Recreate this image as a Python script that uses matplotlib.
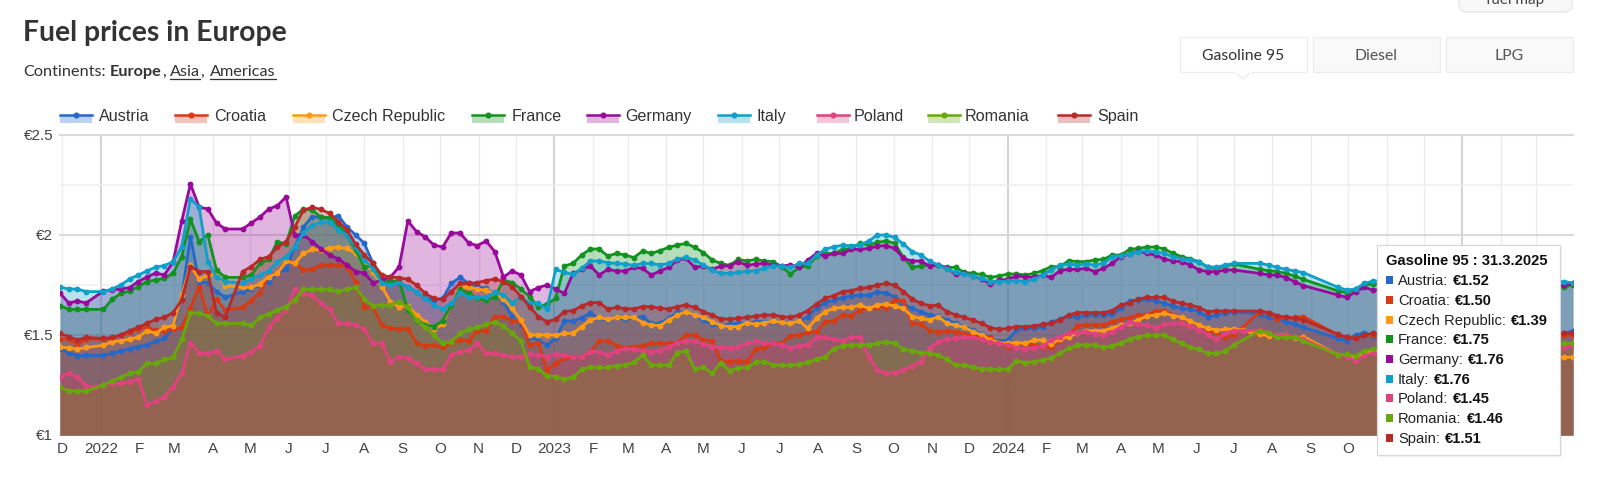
import datetime as dt
import matplotlib
matplotlib.use("Agg")
import matplotlib.pyplot as plt
from matplotlib.patches import Rectangle, FancyBboxPatch, Polygon
from matplotlib.lines import Line2D

WEEKS = [dt.date(2021, 11, 29) + dt.timedelta(days=7 * k) for k in range(175)]
BEHIND = [None] * 21   # weeks covered by the tooltip

austria = [1.428,1.412,1.397,1.398,None,1.398,1.408,1.42,1.432,1.442,
 1.45,1.47,1.483,1.533,1.692,1.992,1.767,1.76,1.717,1.688,
 None,1.717,1.73,1.75,1.767,1.808,1.828,1.942,2.04,2.092,
 2.088,2.083,2.097,2.04,2.0,1.958,1.858,1.767,1.767,1.762,
 1.742,1.717,1.683,1.675,1.683,1.758,1.788,1.758,1.742,1.733,
 1.705,1.667,1.592,1.55,1.492,1.475,1.45,1.483,1.57,1.57,
 1.587,1.608,1.583,1.575,1.588,1.578,1.588,1.592,1.558,1.558,
 1.583,1.613,1.617,1.60,1.575,1.555,1.547,1.555,1.558,1.558,
 1.567,1.567,1.567,1.567,1.562,1.567,1.592,1.633,1.662,1.675,
 1.687,1.697,1.698,1.70,1.717,1.708,1.692,1.655,1.633,1.617,
 1.60,1.595,1.575,1.558,1.542,1.525,1.505,1.478,1.47,1.475,
 1.525,1.533,1.533,1.542,1.565,1.578,1.595,1.588,1.60,1.60,
 1.60,1.605,1.633,1.67,1.675,1.678,1.67,1.658,1.645,1.633,
 1.63,1.617,1.588,1.60,1.608,1.617,None,None,1.605,1.588,
 1.58,1.567,1.555,1.538,None,None,None,1.483,1.472,1.50,
 1.512,1.497] + BEHIND + [1.51,1.52]

croatia = [1.48,1.48,1.45,1.48,None,1.478,1.483,1.50,1.513,1.53,
 1.538,1.525,1.522,1.528,1.538,1.633,1.742,1.592,1.678,1.625,
 None,1.638,1.672,1.712,1.795,1.812,1.875,1.862,1.825,1.828,
 1.85,1.85,1.85,1.842,1.767,1.642,1.638,1.55,1.533,1.53,
 1.532,1.458,1.447,1.45,1.438,1.462,1.475,1.472,1.522,1.522,
 1.592,1.592,1.572,1.567,1.45,1.46,1.325,1.358,1.383,1.388,
 1.392,1.417,1.47,1.472,1.447,1.437,1.442,1.447,1.458,1.458,
 1.458,1.462,1.50,1.50,1.475,1.47,1.37,1.367,1.37,1.367,
 1.428,1.438,1.458,1.458,1.497,1.50,1.513,1.517,1.567,1.57,
 1.60,1.597,1.625,1.633,1.642,1.637,1.675,1.672,1.558,1.555,
 1.522,1.517,1.52,1.517,1.505,1.50,1.492,1.488,1.458,1.442,
 1.458,1.455,1.45,1.442,1.438,1.475,1.503,1.545,1.55,1.55,
 1.55,1.567,1.578,1.587,1.60,1.60,1.62,1.622,1.60,1.587,
 1.57,1.55,1.525,None,1.492,1.50,None,None,1.617,1.612,
 1.578,1.588,1.588,1.592,None,None,None,1.50,1.488,1.483,
 1.50,1.50] + BEHIND + [1.50,1.50]

czech = [1.438,1.437,1.428,1.438,None,1.448,1.467,1.47,1.48,1.488,
 1.522,1.508,1.538,1.547,1.70,1.85,1.778,1.80,1.808,1.747,
 None,1.738,1.738,1.755,1.792,1.808,1.87,1.858,1.908,1.928,
 1.925,1.937,1.938,1.933,1.908,1.858,1.817,1.742,1.667,1.64,
 1.647,1.60,1.567,1.528,1.553,1.658,1.733,1.742,1.728,1.725,
 1.705,1.678,1.633,1.575,1.50,1.50,1.50,1.50,1.508,1.508,
 1.542,1.575,1.588,1.578,1.588,1.588,1.588,1.562,1.55,1.547,
 1.575,1.60,1.617,1.60,1.588,1.567,1.547,1.542,1.542,1.562,
 1.553,1.562,1.57,1.563,1.558,1.57,1.533,1.583,1.617,1.633,
 1.638,1.638,1.65,1.633,1.65,1.655,1.645,1.633,1.592,1.583,
 1.575,1.592,1.558,1.55,1.538,1.517,1.50,1.475,1.462,1.458,
 1.462,1.458,1.475,1.475,1.455,1.478,1.492,1.508,1.52,1.522,
 1.522,1.535,1.55,1.558,1.575,1.595,1.60,1.608,1.597,1.588,
 1.57,1.55,1.533,1.525,1.528,1.53,1.525,1.517,1.505,1.495,
 1.50,1.50,1.483,1.492,None,None,None,1.40,1.40,1.388,
 1.408,1.42] + BEHIND + [1.388,1.39]

france = [1.647,1.628,1.628,1.628,None,1.628,1.678,1.708,1.72,1.742,
 1.767,1.775,1.783,1.808,1.892,2.078,1.967,2.0,1.825,1.788,
 None,1.788,1.80,1.858,1.878,1.967,1.955,2.095,2.13,2.125,
 2.09,2.087,2.05,2.0,1.925,1.838,1.847,1.767,1.767,1.772,
 1.625,1.572,1.55,1.542,1.572,1.65,1.73,1.708,1.683,1.675,
 1.688,1.775,1.762,1.73,1.692,1.64,1.655,1.683,1.845,1.858,
 1.90,1.93,1.93,1.895,1.908,1.90,1.887,1.92,1.908,1.922,
 1.938,1.95,1.958,1.938,1.912,1.875,1.858,1.848,1.878,1.87,
 1.878,1.87,1.867,1.842,1.805,1.838,1.845,1.895,1.908,1.908,
 1.928,1.933,1.958,1.95,1.963,1.97,1.958,1.888,1.838,1.845,
 1.85,1.85,1.838,1.838,1.813,1.808,1.803,1.788,1.795,1.805,
 1.805,1.80,1.808,1.822,1.842,1.842,1.872,1.867,1.867,1.875,
 1.878,1.90,1.90,1.928,1.933,1.94,1.94,1.93,1.908,1.892,
 1.88,1.867,1.838,1.833,1.845,1.855,None,None,1.828,1.822,
 1.817,1.808,1.795,1.778,None,None,None,1.72,1.712,1.73,
 1.75,1.755] + BEHIND + [1.74,1.75]

germany = [1.71,1.66,1.67,1.66,None,1.72,1.725,1.73,1.737,1.767,
 1.79,1.81,1.80,1.865,2.07,2.255,2.14,2.13,2.06,2.03,
 None,2.03,2.06,2.09,2.13,2.147,2.19,2.0,2.0,1.967,
 1.93,1.90,1.88,1.85,1.817,1.81,1.76,1.775,1.79,1.84,
 2.07,2.017,1.99,1.95,1.94,2.01,2.01,1.96,1.947,1.97,
 1.917,1.79,1.82,1.80,1.717,1.737,1.75,1.73,1.708,1.808,
 1.828,1.845,1.80,1.828,1.82,1.82,1.838,1.833,1.80,1.82,
 1.838,1.875,1.883,1.838,1.845,1.828,1.845,1.845,1.867,1.848,
 1.855,1.858,1.85,1.845,1.85,1.838,1.875,1.908,1.895,1.908,
 1.908,1.928,1.928,1.933,1.945,1.947,1.933,1.883,1.87,1.87,
 1.845,1.85,1.833,1.805,1.808,1.795,1.78,1.755,1.775,1.778,
 1.795,1.792,1.788,1.80,1.788,1.822,1.828,1.828,1.833,1.817,
 1.833,1.858,1.892,1.905,1.92,1.908,1.90,1.88,1.87,1.867,
 1.85,1.825,1.817,1.817,1.825,1.825,None,None,1.808,1.80,
 1.80,1.787,1.767,1.747,None,None,None,1.70,1.688,1.717,
 1.738,1.725] + BEHIND + [1.75,1.76]

italy = [1.74,1.73,1.73,1.717,None,1.717,1.73,1.75,1.78,1.80,
 1.82,1.84,1.847,1.867,1.94,2.18,2.14,1.867,1.79,1.767,
 None,1.76,1.78,1.80,1.82,1.867,1.89,1.94,2.01,2.05,
 2.063,2.067,2.025,2.0,1.94,1.875,1.83,1.76,1.75,1.763,
 1.74,1.717,1.683,1.65,1.63,1.66,1.71,1.69,1.69,1.69,
 1.713,1.70,1.66,1.69,1.66,1.658,1.63,1.828,1.813,1.803,
 1.833,1.87,1.87,1.862,1.858,1.855,1.848,1.858,1.858,1.85,
 1.858,1.88,1.888,1.875,1.85,1.825,1.808,1.808,1.813,1.818,
 1.822,1.833,1.845,1.845,1.838,1.858,1.858,1.90,1.928,1.942,
 1.948,1.947,1.95,1.97,2.0,2.0,1.988,1.955,1.917,1.90,
 1.87,1.85,1.83,1.813,1.805,1.795,1.783,1.767,1.767,1.77,
 1.77,1.767,1.778,1.80,1.825,1.85,1.855,1.85,1.855,1.85,
 1.858,1.892,1.897,1.905,1.917,1.922,1.917,1.908,1.892,1.88,
 1.875,1.863,1.842,1.838,1.85,1.858,None,None,1.858,1.85,
 1.838,1.828,1.82,1.812,None,None,None,1.738,1.725,1.73,
 1.758,1.77] + BEHIND + [1.767,1.76]

poland = [1.292,1.308,1.292,1.245,1.242,1.25,1.258,1.258,1.267,1.282,
 1.15,1.17,1.192,1.242,1.308,1.462,1.408,1.408,1.42,1.378,
 None,1.397,1.417,1.447,1.538,1.587,1.625,1.73,1.708,1.70,
 1.658,1.63,1.558,1.558,1.55,1.53,1.458,1.458,1.367,1.392,
 1.383,1.358,1.328,1.328,1.328,1.40,1.417,1.425,1.458,1.408,
 1.408,1.40,1.392,1.392,1.403,1.40,1.392,1.405,1.398,1.392,
 1.392,1.417,1.417,1.40,1.422,1.43,1.43,1.422,1.417,1.422,
 1.442,1.458,1.472,1.47,1.455,1.442,1.438,1.437,1.438,1.458,
 1.468,1.458,1.458,1.45,1.437,1.447,1.45,1.488,1.488,1.48,
 1.472,1.488,1.488,1.392,1.325,1.308,1.312,1.325,1.345,1.367,
 1.433,1.467,1.478,1.483,1.488,1.488,1.478,1.463,1.458,1.45,
 1.437,1.43,1.437,1.445,1.475,1.492,1.508,1.512,1.517,1.505,
 1.50,1.517,1.538,1.567,1.553,1.55,1.537,1.555,1.558,1.558,
 1.545,1.525,1.50,1.478,1.508,1.522,1.522,None,1.525,1.512,
 1.50,1.50,1.492,1.48,None,None,None,1.40,1.392,1.37,
 1.40,1.408] + BEHIND + [1.44,1.45]

romania = [1.238,1.22,1.22,1.22,None,1.25,1.27,1.288,1.308,1.317,
 1.358,1.358,1.378,1.388,1.478,1.612,1.608,1.597,1.558,1.558,
 None,1.558,1.548,1.588,1.605,1.625,1.642,1.675,1.728,1.728,
 1.728,1.728,1.718,1.728,1.738,1.678,1.647,1.65,1.65,1.667,
 1.638,1.575,1.538,1.50,1.458,1.467,1.508,1.528,1.538,1.553,
 1.567,1.545,1.508,1.472,1.342,1.33,1.297,1.292,1.28,1.288,
 1.328,1.338,1.338,1.338,1.347,1.35,1.363,1.40,1.35,1.35,
 1.35,1.412,1.42,1.328,1.338,1.308,1.362,1.32,1.337,1.338,
 1.363,1.367,1.35,1.35,1.35,1.353,1.363,1.378,1.392,1.43,
 1.447,1.45,1.45,1.45,1.458,1.467,1.458,1.43,1.42,1.412,
 1.408,1.40,1.378,1.35,1.35,1.338,1.332,1.328,1.328,1.328,
 1.37,1.362,1.367,1.375,1.385,1.408,1.433,1.45,1.45,1.45,
 1.438,1.447,1.458,1.48,1.492,1.498,1.498,1.50,1.478,1.458,
 1.438,1.428,1.408,1.408,1.42,1.45,None,None,1.522,1.508,
 1.488,1.488,1.488,1.47,None,None,None,1.40,1.403,1.397,
 1.422,1.428] + BEHIND + [1.458,1.46]

spain = [1.508,1.492,1.475,1.488,None,1.483,1.488,1.50,1.522,1.538,
 1.558,1.578,1.588,1.612,1.675,1.842,1.817,1.817,1.61,1.59,
 None,1.817,1.842,1.878,1.892,1.938,1.967,2.04,2.125,2.138,
 2.128,2.108,2.067,2.025,1.955,1.90,1.858,1.80,1.79,1.787,
 1.778,1.75,1.708,1.683,1.678,1.717,1.758,1.758,1.762,1.772,
 1.78,1.767,1.742,1.692,1.642,1.592,1.567,1.578,1.617,1.622,
 1.645,1.662,1.662,1.63,1.638,1.632,1.63,1.642,1.642,1.633,
 1.63,1.642,1.65,1.638,1.617,1.60,1.58,1.58,1.583,1.588,
 1.595,1.60,1.60,1.592,1.588,1.60,1.622,1.655,1.683,1.697,
 1.717,1.722,1.733,1.738,1.75,1.758,1.75,1.717,1.68,1.658,
 1.647,1.648,1.617,1.60,1.588,1.575,1.558,1.537,1.528,1.533,
 1.542,1.542,1.545,1.553,1.558,1.575,1.60,1.612,1.612,1.612,
 1.612,1.622,1.65,1.662,1.68,1.688,1.688,1.688,1.67,1.658,
 1.65,1.637,1.617,1.62,1.62,1.62,None,None,1.62,1.612,
 1.597,1.588,1.583,1.575,None,None,None,1.503,1.488,1.483,
 1.50,1.508] + BEHIND + [1.508,1.51]

names = ["Austria", "Croatia", "Czech Republic", "France", "Germany", "Italy",
         "Poland", "Romania", "Spain"]
series = [austria, croatia, czech, france, germany, italy, poland, romania, spain]
colors = ["#2468c9", "#d83a12", "#ff9a12", "#12921f", "#990a9b", "#0f9fc9",
          "#e0417f", "#68a80a", "#b82a2a"]
tip_values = ["€1.52", "€1.50", "€1.39", "€1.75", "€1.76", "€1.76", "€1.45", "€1.46", "€1.51"]
y_ticks = [1, 1.5, 2, 2.5]
y_labels = ["€1", "€1.5", "€2", "€2.5"]
y_minor = [1.25, 1.75, 2.25]
month_letters = {1: "J", 2: "F", 3: "M", 4: "A", 5: "M", 6: "J", 7: "J", 8: "A", 9: "S", 10: "O", 11: "N", 12: "D"}
month_starts = [dt.date(2021, 12, 1)] + [dt.date(y, m, 1) for y in (2022, 2023, 2024) for m in range(1, 13)] \
    + [dt.date(2025, m, 1) for m in (1, 2, 3)]
last_visible_label = dt.date(2024, 10, 1)   # later month labels lie under the tooltip

W, H = 1600, 492
SANS = "Liberation Sans"
UI = "Lato"
fig = plt.figure(figsize=(W / 100, H / 100), dpi=100, facecolor="white")
L, R, T, B = 60, 1573, 135, 435
ax = fig.add_axes([L / W, 1 - B / H, (R - L) / W, (B - T) / H])
for sp in ax.spines.values():
    sp.set_visible(False)

for d in month_starts:
    major = d.month == 1
    ax.axvline(d, color="#d4d4d4" if major else "#ececec", lw=1.5 if major else 1.0, zorder=1)
for v in y_minor:
    ax.axhline(v, color="#eeeeee", lw=1.1, zorder=1)
for v in y_ticks:
    ax.axhline(v, color="#dadada", lw=1.5, zorder=1, clip_on=False)

for k, (name, vals, col) in enumerate(zip(names, series, colors)):
    xs = [d for d, v in zip(WEEKS, vals) if v is not None]
    ys = [v for v in vals if v is not None]
    ax.fill_between(xs, 1, ys, color=col, alpha=0.3, lw=0, zorder=2 + k * 0.01)
for k, (name, vals, col) in enumerate(zip(names, series, colors)):
    xs = [d for d, v in zip(WEEKS, vals) if v is not None]
    ys = [v for v in vals if v is not None]
    ax.plot(xs, ys, color=col, lw=2.0, marker="o", ms=4.2, mew=0, zorder=3 + k * 0.01, clip_on=True)

ax.set_xlim(WEEKS[0], WEEKS[-1])
ax.set_ylim(1, 2.5)
ax.set_yticks(y_ticks)
ax.set_yticklabels(y_labels, fontsize=11, color="#444444", family=SANS)
ax.set_xticks(month_starts)
ax.set_xticklabels([("" if d > last_visible_label else str(d.year) if d.month == 1 else month_letters[d.month])
                    for d in month_starts],
                   fontsize=11, color="#444444", family=SANS)
ax.tick_params(length=0, pad=5)

# Page furniture in pixel coordinates
ov = fig.add_axes([0, 0, 1, 1], zorder=10)
ov.set_xlim(0, W)
ov.set_ylim(H, 0)
ov.axis("off")
ov.patch.set_alpha(0)
renderer = fig.canvas.get_renderer()

def runs(x, y, parts, size, family, color):
    for text, weight, underline in parts:
        t = ov.text(x, y, text, fontsize=size, family=family, fontweight=weight,
                    color=color, va="baseline", ha="left")
        w = t.get_window_extent(renderer).width
        if underline:
            ov.add_line(Line2D([x, x + w], [y + 2.5, y + 2.5], color=color, lw=0.9))
        x += w

ov.text(23, 40.5, "Fuel prices in Europe", fontsize=20.4, family=UI, fontweight="bold", color="#333333")
runs(23, 76, [("Continents:", "normal", False)], 11.7, UI, "#333333")
runs(110, 76, [("Europe", "bold", False), (",", "normal", False)], 11.7, UI, "#333333")
runs(170, 76, [("Asia", "normal", True), (",", "normal", False)], 11.7, UI, "#333333")
runs(210, 76, [("Americas", "normal", True)], 11.7, UI, "#333333")

# top-right button and tabs
ov.add_patch(FancyBboxPatch((1459, -20), 113, 32, boxstyle="round,pad=0,rounding_size=8",
                            fc="#f8f8f8", ec="#e8e8e8", lw=1))
ov.text(1515, 4, "fuel map", fontsize=11, family=UI, color="#444444", ha="center")
tab_edges = [(1180, 1307, "Gasoline 95"), (1313, 1440, "Diesel"), (1446, 1573, "LPG")]
for k, (a, b, label) in enumerate(tab_edges):
    ov.add_patch(Rectangle((a, 37), b - a, 34.5, fc="white" if k == 0 else "#f9f9f9", ec="#ececec", lw=0.9))
    ov.text((a + b) / 2, 55.5, label, fontsize=11.3, family=UI, color="#333333" if k == 0 else "#555555",
            ha="center", va="center")
ov.add_patch(Polygon([(1235, 71.5), (1243, 79), (1251, 71.5)], closed=True, fc="white", ec="#ececec", lw=0.9))
ov.add_line(Line2D([1235.8, 1250.2], [71.5, 71.5], color="white", lw=1.4))

# legend
leg_sw = [60, 175, 293, 472, 587, 718, 817, 927.5, 1058]
leg_tx = [99, 214.5, 332, 512, 625.5, 756, 854, 965, 1097]
for x0, xt, name, col in zip(leg_sw, leg_tx, names, colors):
    ov.add_patch(Rectangle((x0, 114.5), 32, 8, fc=col, alpha=0.3, lw=0))
    ov.add_line(Line2D([x0, x0 + 32], [114.5, 114.5], color=col, lw=1.8))
    ov.add_line(Line2D([x0 + 16], [114.5], color=col, marker="o", ms=4.4, mew=0))
    ov.text(xt, 120.9, name, fontsize=11.6, family=SANS, color="#333333", va="baseline")

# tooltip
ov.add_patch(Rectangle((1378, 247), 184, 210, fc="#0000000d", lw=0))
ov.add_patch(Rectangle((1376.5, 245), 183.5, 210, fc="white", ec="#d8d8d8", lw=0.9))
ov.text(1385.5, 265, "Gasoline 95 : 31.3.2025", fontsize=10.6, family=SANS, fontweight="bold", color="#111111")
tip_y = [280, 300, 320, 339, 359, 379, 398, 418, 438]
for yc, name, col, val in zip(tip_y, names, colors, tip_values):
    ov.add_patch(Rectangle((1385.5, yc - 3.7), 7.5, 7.5, fc=col, lw=0))
    t = ov.text(1398, yc + 5, name + ":", fontsize=10.6, family=SANS, color="#222222")
    w = t.get_window_extent(renderer).width
    ov.text(1398 + w + 5, yc + 5, val, fontsize=10.6, family=SANS, fontweight="bold", color="#111111")

fig.savefig("out.png", dpi=100)
